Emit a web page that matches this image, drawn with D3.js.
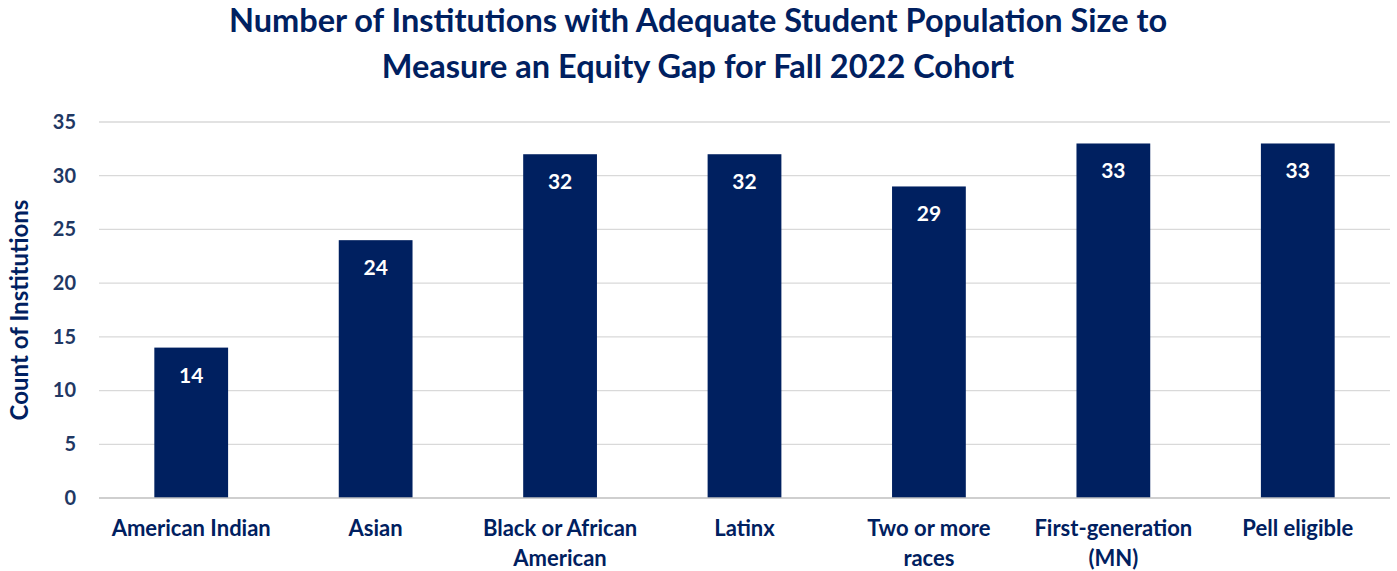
<!DOCTYPE html>
<html>
<head>
<meta charset="utf-8">
<script src="https://cdn.jsdelivr.net/npm/d3@7"></script>
<style>
  body { margin: 0; background: #fff; }
  svg { display: block; }
</style>
</head>
<body>
<svg id="chart" width="1397" height="571"></svg>
<script>
const categories = [
  ["American Indian"],
  ["Asian"],
  ["Black or African", "American"],
  ["Latinx"],
  ["Two or more", "races"],
  ["First-generation", "(MN)"],
  ["Pell eligible"]
];
const values = [14, 24, 32, 32, 29, 33, 33];
const yTicks = [0, 5, 10, 15, 20, 25, 30, 35];
const titleLines = [
  "Number of Institutions with Adequate Student Population Size to",
  "Measure an Equity Gap for Fall 2022 Cohort"
];

const width = 1397;
const height = 571;
const margin = { top: 122, right: 7, bottom: 73, left: 99 };
const font = "Lato, 'Open Sans', sans-serif";
const navy = "#002060";

const svg = d3.select("#chart");

const data = categories.map((c, i) => ({ key: c.join(" "), lines: c, value: values[i] }));

const x = d3.scaleBand()
  .domain(data.map(d => d.key))
  .range([margin.left, width - margin.right])
  .paddingInner(0.6)
  .paddingOuter(0.3);

const y = d3.scaleLinear()
  .domain([0, 35])
  .range([height - margin.bottom, margin.top]);

// gridlines
svg.append("g")
  .selectAll("line")
  .data(yTicks.filter(t => t > 0))
  .join("line")
  .attr("x1", margin.left)
  .attr("x2", width - margin.right)
  .attr("y1", d => y(d))
  .attr("y2", d => y(d))
  .attr("stroke", "#d9d9d9")
  .attr("stroke-width", 1.3);

// y axis labels
const yAxis = svg.append("g")
  .attr("transform", `translate(${margin.left},0)`)
  .call(d3.axisLeft(y).tickValues(yTicks).tickSize(0).tickPadding(23));
yAxis.select(".domain").remove();
yAxis.selectAll("text")
  .attr("font-size", "20px")
  .attr("font-weight", "bold")
  .attr("font-family", font)
  .attr("fill", "#1f3864");

// bars
svg.append("g")
  .selectAll("rect")
  .data(data)
  .join("rect")
  .attr("x", d => x(d.key))
  .attr("width", x.bandwidth())
  .attr("y", d => y(d.value))
  .attr("height", d => y(0) - y(d.value))
  .attr("fill", navy);

// baseline
svg.append("line")
  .attr("x1", margin.left)
  .attr("x2", width - margin.right)
  .attr("y1", y(0))
  .attr("y2", y(0))
  .attr("stroke", "#bfbfbf")
  .attr("stroke-width", 1.5);

// value labels
svg.append("g")
  .selectAll("text")
  .data(data)
  .join("text")
  .attr("x", d => x(d.key) + x.bandwidth() / 2)
  .attr("y", d => y(d.value) + 35)
  .attr("text-anchor", "middle")
  .attr("font-size", "21px")
  .attr("font-weight", "bold")
  .attr("font-family", font)
  .attr("fill", "#fff")
  .text(d => d.value);

// category labels
const cat = svg.append("g")
  .selectAll("text")
  .data(data)
  .join("text")
  .attr("x", d => x(d.key) + x.bandwidth() / 2)
  .attr("y", y(0) + 38)
  .attr("text-anchor", "middle")
  .attr("font-size", "22px")
  .attr("font-weight", "bold")
  .attr("font-family", font)
  .attr("fill", navy);
cat.selectAll("tspan")
  .data(d => d.lines)
  .join("tspan")
  .attr("x", function() { return d3.select(this.parentNode).attr("x"); })
  .attr("dy", (d, i) => i === 0 ? 0 : 30)
  .text(d => d);

// y axis title
svg.append("text")
  .attr("transform", `translate(28,${(y(0) + y(35)) / 2}) rotate(-90)`)
  .attr("text-anchor", "middle")
  .attr("font-size", "24px")
  .attr("font-weight", "bold")
  .attr("font-family", font)
  .attr("fill", navy)
  .text("Count of Institutions");

// title
svg.append("text")
  .attr("x", 698)
  .attr("y", 32)
  .attr("text-anchor", "middle")
  .attr("font-size", "32.5px")
  .attr("font-weight", "bold")
  .attr("font-family", font)
  .attr("fill", navy)
  .selectAll("tspan")
  .data(titleLines)
  .join("tspan")
  .attr("x", 698)
  .attr("dy", (d, i) => i === 0 ? 0 : 46)
  .text(d => d);
</script>
</body>
</html>
